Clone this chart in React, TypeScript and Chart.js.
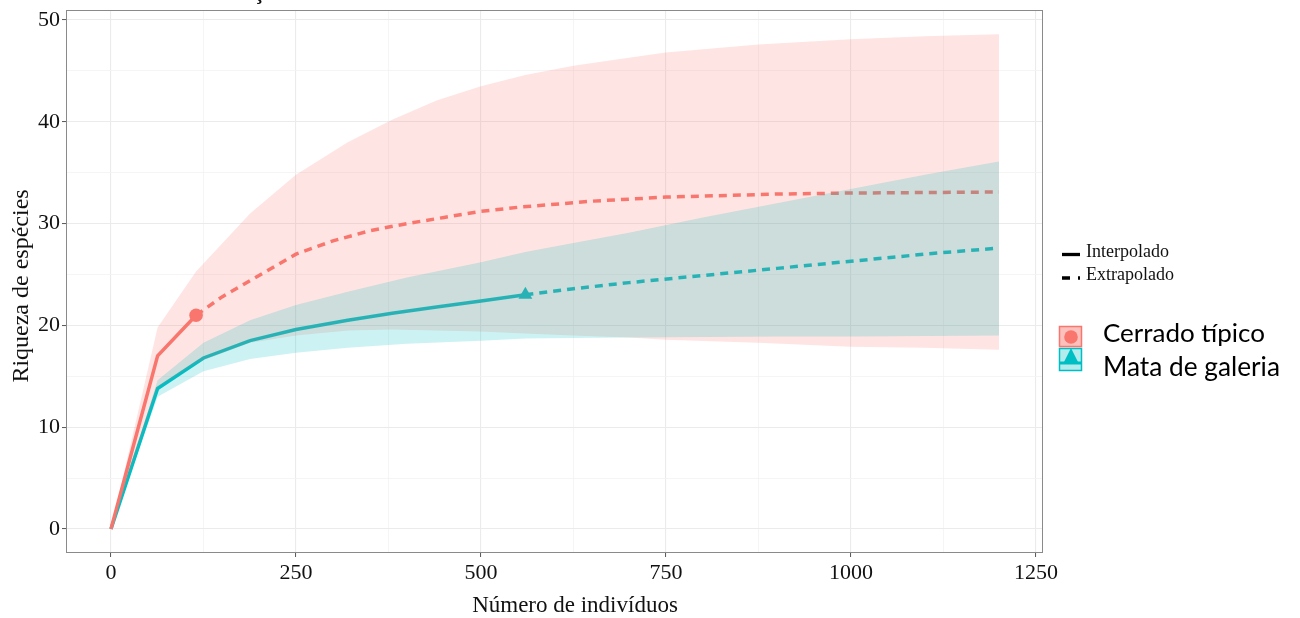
import React, { useEffect, useRef } from "react";
import { Chart, registerables } from "chart.js";

Chart.register(...registerables);

// ---- axis ticks ----
const xTicks = [0, 125, 250, 375, 500, 625, 750, 875, 1000, 1125, 1250];
const xTickLabels = [0, 250, 500, 750, 1000, 1250];
const yTicks = [0, 5, 10, 15, 20, 25, 30, 35, 40, 45, 50];
const yTickLabels = [0, 10, 20, 30, 40, 50];

// ---- Cerrado típico ----
const redInterpX = [0, 63, 115];
const redInterpY = [0, 17, 21];
const redExtrapX = [115, 150, 188, 250, 300, 350, 400, 450, 500, 550, 600, 650, 700, 750, 800, 900, 1000, 1100, 1200];
const redExtrapY = [21, 22.8, 24.4, 27.0, 28.3, 29.3, 30.0, 30.6, 31.2, 31.6, 31.9, 32.2, 32.4, 32.6, 32.7, 32.9, 33.0, 33.05, 33.1];
const redBandX = [0, 63, 115, 188, 250, 320, 380, 440, 500, 560, 625, 700, 750, 875, 1000, 1100, 1200];
const redUpper = [0, 19.8, 25.3, 31, 34.8, 38, 40.2, 42.1, 43.5, 44.6, 45.5, 46.3, 46.8, 47.6, 48.1, 48.4, 48.6];
const redLower = [0, 13.9, 16.3, 18.3, 19.0, 19.5, 19.6, 19.5, 19.4, 19.2, 19.0, 18.8, 18.6, 18.3, 17.9, 17.8, 17.6];
const redObs = { x: 115, y: 21 };

// ---- Mata de galeria ----
const tealInterpX = [0, 63, 125, 188, 250, 320, 380, 440, 500, 560];
const tealInterpY = [0, 13.8, 16.8, 18.5, 19.6, 20.5, 21.2, 21.8, 22.4, 23.0];
const tealExtrapX = [560, 625, 700, 800, 900, 1000, 1100, 1200];
const tealExtrapY = [23, 23.6, 24.2, 24.9, 25.6, 26.3, 27.0, 27.6];
const tealBandX = [0, 63, 125, 188, 250, 320, 400, 500, 560, 625, 700, 800, 900, 1000, 1100, 1200];
const tealUpper = [0, 14.6, 18.3, 20.5, 22.0, 23.3, 24.7, 26.2, 27.2, 28.1, 29.1, 30.6, 32.0, 33.4, 34.8, 36.1];
const tealLower = [0, 13.0, 15.5, 16.7, 17.3, 17.8, 18.2, 18.5, 18.7, 18.75, 18.8, 18.85, 18.9, 18.9, 18.95, 19.0];
const tealObs = { x: 560, y: 23 };

const seriesNames = ["Cerrado típico", "Mata de galeria"];
const lineTypeNames = ["Interpolado", "Extrapolado"];
const titleText = "Curva de rarefação";
const xTitle = "Número de indivíduos";
const yTitle = "Riqueza de espécies";

const RED = "#F8766D";
const TEAL = "#00BFC4";
const SERIF = '"Liberation Serif", "Times New Roman", serif';

const pts = (xs: number[], ys: number[]) => xs.map((x, i) => ({ x, y: ys[i] }));

const overlayPlugin = {
  id: "overlay",
  afterDraw(chart: any) {
    const ctx = chart.ctx as CanvasRenderingContext2D;
    const a = chart.chartArea;
    ctx.save();
    // panel border
    ctx.strokeStyle = "#8a8a8a";
    ctx.lineWidth = 1;
    ctx.strokeRect(a.left + 0.5, a.top + 0.5, a.right - a.left - 1, a.bottom - a.top - 1);

    // clipped title fragment
    ctx.fillStyle = "#111";
    ctx.font = `bold 22px ${SERIF}`;
    ctx.textBaseline = "alphabetic";
    ctx.textAlign = "left";
    const pre = ctx.measureText("Curva de rarefa").width;
    const cw = ctx.measureText("ç").width;
    ctx.fillText(titleText, 259 - pre - cw / 2, -1);

    // axis titles
    ctx.fillStyle = "#111";
    ctx.font = `23px ${SERIF}`;
    ctx.textAlign = "center";
    ctx.textBaseline = "middle";
    ctx.fillText(xTitle, 575, 606);
    ctx.save();
    ctx.translate(22, 286);
    ctx.rotate(-Math.PI / 2);
    ctx.font = `24px ${SERIF}`;
    ctx.fillText(yTitle, 0, 0);
    ctx.restore();

    // linetype legend
    ctx.strokeStyle = "#000";
    ctx.lineWidth = 3.3;
    ctx.beginPath();
    ctx.moveTo(1062, 254.5);
    ctx.lineTo(1080, 254.5);
    ctx.stroke();
    ctx.setLineDash([8, 8]);
    ctx.beginPath();
    ctx.moveTo(1062, 278);
    ctx.lineTo(1080, 278);
    ctx.stroke();
    ctx.setLineDash([]);
    ctx.fillStyle = "#111";
    ctx.font = `18px ${SERIF}`;
    ctx.textAlign = "left";
    ctx.textBaseline = "middle";
    ctx.fillText(lineTypeNames[0], 1086, 252);
    ctx.fillText(lineTypeNames[1], 1086, 275);

    // series legend keys
    ctx.fillStyle = "rgba(248,118,109,0.45)";
    ctx.fillRect(1059, 326, 23, 21);
    ctx.strokeStyle = RED;
    ctx.lineWidth = 1.5;
    ctx.strokeRect(1059.5, 326.5, 22, 20);
    ctx.fillStyle = RED;
    ctx.beginPath();
    ctx.arc(1071, 337, 6.8, 0, Math.PI * 2);
    ctx.fill();

    ctx.fillStyle = "rgba(0,191,196,0.3)";
    ctx.fillRect(1059, 348, 23, 23);
    ctx.strokeStyle = TEAL;
    ctx.strokeRect(1059.5, 348.5, 22, 22);
    ctx.fillStyle = TEAL;
    ctx.fillRect(1060, 361.5, 21, 3);
    ctx.beginPath();
    ctx.moveTo(1071, 348);
    ctx.lineTo(1078, 362);
    ctx.lineTo(1064, 362);
    ctx.closePath();
    ctx.fill();

    // series legend labels (fit to reference widths)
    ctx.fillStyle = "#000";
    ctx.textAlign = "left";
    ctx.textBaseline = "middle";
    const fitFont = (text: string, target: number) => {
      ctx.font = `26px Lato, "Noto Sans", sans-serif`;
      const w = ctx.measureText(text).width;
      const size = (26 * target) / w;
      ctx.font = `${size.toFixed(2)}px Lato, "Noto Sans", sans-serif`;
    };
    fitFont(seriesNames[0], 162);
    ctx.fillText(seriesNames[0], 1103, 334);
    fitFont(seriesNames[1], 177);
    ctx.fillText(seriesNames[1], 1103, 368);
    ctx.restore();
  },
};

export default function App() {
  const ref = useRef<HTMLCanvasElement>(null);
  useEffect(() => {
    if (!ref.current) return;
    const lineBase = { pointRadius: 0, borderWidth: 3.5, fill: false, tension: 0 };
    const chart = new Chart(ref.current, {
      type: "line",
      data: {
        datasets: [
          { data: pts(tealBandX, tealUpper), borderWidth: 0, pointRadius: 0, fill: "+1", backgroundColor: "rgba(0,191,196,0.2)", borderColor: "transparent" },
          { data: pts(tealBandX, tealLower), borderWidth: 0, pointRadius: 0, fill: false, borderColor: "transparent" },
          { data: pts(redBandX, redUpper), borderWidth: 0, pointRadius: 0, fill: "+1", backgroundColor: "rgba(248,118,109,0.2)", borderColor: "transparent" },
          { data: pts(redBandX, redLower), borderWidth: 0, pointRadius: 0, fill: false, borderColor: "transparent" },
          { data: [redObs], showLine: false, pointStyle: "circle", pointRadius: 6.8, pointBorderWidth: 0, pointBackgroundColor: RED, borderColor: RED },
          { data: [tealObs], showLine: false, pointStyle: "triangle", pointRadius: 8, pointBorderWidth: 0, pointBackgroundColor: TEAL, borderColor: TEAL },
          { ...lineBase, data: pts(redInterpX, redInterpY), borderColor: RED },
          { ...lineBase, data: pts(redExtrapX, redExtrapY), borderColor: RED, borderDash: [8, 6] },
          { ...lineBase, data: pts(tealInterpX, tealInterpY), borderColor: TEAL },
          { ...lineBase, data: pts(tealExtrapX, tealExtrapY), borderColor: TEAL, borderDash: [8, 6] },
        ] as any,
      },
      options: {
        animation: false,
        responsive: false,
        devicePixelRatio: 1,
        layout: { padding: { left: 0, right: 257, top: 10, bottom: 0 } },
        plugins: { legend: { display: false }, tooltip: { enabled: false } },
        scales: {
          x: {
            type: "linear",
            min: -60.8,
            max: 1259.5,
            afterBuildTicks: (s: any) => { s.ticks = xTicks.map((v) => ({ value: v })); },
            afterFit: (s: any) => { s.height = 65; s.paddingLeft = 0; s.paddingRight = 0; },
            ticks: {
              autoSkip: false,
              maxRotation: 0,
              padding: 3,
              color: "#111",
              font: { family: SERIF, size: 22 },
              callback: (v: any) => (xTickLabels.includes(Number(v)) ? String(v) : ""),
            },
            grid: {
              color: (c: any) => (xTickLabels.includes(c.tick?.value) ? "#EBEBEB" : "#F3F3F3"),
              lineWidth: (c: any) => (xTickLabels.includes(c.tick?.value) ? 1.1 : 0.8),
              tickColor: (c: any) => (xTickLabels.includes(c.tick?.value) ? "#555" : "rgba(0,0,0,0)"),
              tickLength: 4,
              tickWidth: 1,
            },
            border: { display: false },
          },
          y: {
            type: "linear",
            min: -2.36,
            max: 50.98,
            afterBuildTicks: (s: any) => { s.ticks = yTicks.map((v) => ({ value: v })); },
            afterFit: (s: any) => { s.width = 66; s.paddingTop = 0; s.paddingBottom = 0; },
            ticks: {
              autoSkip: false,
              padding: 2,
              color: "#111",
              font: { family: SERIF, size: 22 },
              callback: (v: any) => (yTickLabels.includes(Number(v)) ? String(v) : ""),
            },
            grid: {
              color: (c: any) => (yTickLabels.includes(c.tick?.value) ? "#EBEBEB" : "#F3F3F3"),
              lineWidth: (c: any) => (yTickLabels.includes(c.tick?.value) ? 1.1 : 0.8),
              tickColor: (c: any) => (yTickLabels.includes(c.tick?.value) ? "#555" : "rgba(0,0,0,0)"),
              tickLength: 4,
              tickWidth: 1,
            },
            border: { display: false },
          },
        },
      },
      plugins: [overlayPlugin],
    });
    return () => chart.destroy();
  }, []);
  return (
    <div style={{ position: "fixed", left: 0, top: 0, width: 1300, height: 618, background: "#fff" }}>
      <canvas ref={ref} width={1300} height={618} style={{ display: "block" }} />
    </div>
  );
}
